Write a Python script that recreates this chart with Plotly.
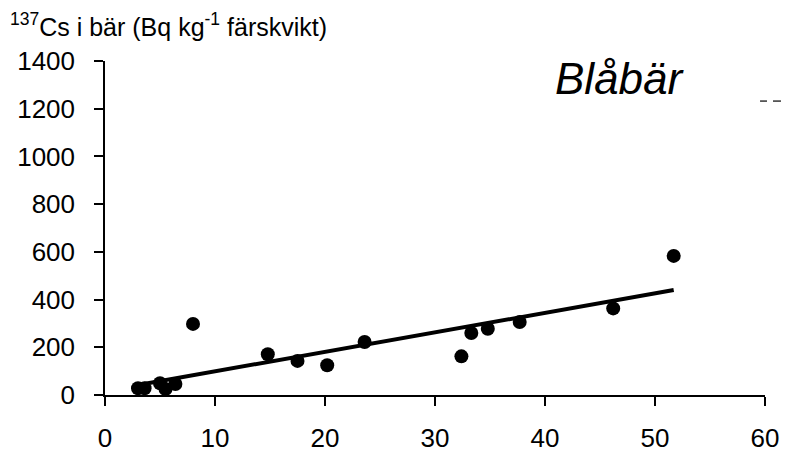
import numpy as np
import plotly.graph_objects as go

# Soil deposition vs. 137Cs activity in blueberries
deposition = [3.0, 3.6, 5.0, 5.5, 6.4, 8.0, 14.8, 17.5, 20.2, 23.6,
              32.4, 33.3, 34.8, 37.7, 46.2, 51.7]
cs_berries = [28, 28, 49, 25, 46, 298, 171, 143, 125, 222,
              162, 260, 278, 306, 363, 583]

x_ticks = [0, 10, 20, 30, 40, 50, 60]
y_ticks = [0, 200, 400, 600, 800, 1000, 1200, 1400]

# Least-squares trend line over the observed range
slope, intercept = np.polyfit(deposition, cs_berries, 1)
x_fit = np.array([min(deposition), max(deposition)])
y_fit = intercept + slope * x_fit

FONT = "Liberation Sans, Arial, sans-serif"

fig = go.Figure()
fig.add_trace(go.Scatter(
    x=x_fit, y=y_fit, mode="lines",
    line=dict(color="black", width=4),
    hoverinfo="skip", showlegend=False,
))
fig.add_trace(go.Scatter(
    x=deposition, y=cs_berries, mode="markers",
    marker=dict(color="black", size=14, line=dict(width=0)),
    cliponaxis=False, showlegend=False,
))

axis_common = dict(
    showline=True, linecolor="black", linewidth=1.5,
    ticks="outside", ticklen=9, tickwidth=1.5, tickcolor="black",
    showgrid=False, zeroline=False, automargin=False,
    tickfont=dict(family=FONT, size=26, color="black"),
)

fig.update_xaxes(range=[0, 60], tickvals=x_ticks, ticklabelstandoff=10, **axis_common)
fig.update_yaxes(range=[0, 1400], tickvals=y_ticks, ticklabelstandoff=14, **axis_common)

fig.add_annotation(
    xref="paper", yref="paper", x=-0.147, y=1.108,
    xanchor="left", yanchor="middle", showarrow=False,
    text="<sup>137</sup>Cs i bär (Bq kg<sup>-1</sup> färskvikt)",
    font=dict(family=FONT, size=25, color="black"),
)
fig.add_annotation(
    xref="paper", yref="paper", x=0.78, y=0.949,
    xanchor="center", yanchor="middle", showarrow=False,
    text="<i>Blåbär</i>",
    font=dict(family=FONT, size=44, color="black"),
)

# Two short dashes at the right edge
for x0, x1 in [(0.9925, 1.0030), (1.0121, 1.0242)]:
    fig.add_shape(type="line", xref="paper", yref="paper",
                  x0=x0, x1=x1, y0=0.880, y1=0.880,
                  line=dict(color="#333333", width=1.5))

fig.update_layout(
    width=789, height=455,
    margin=dict(l=105, r=23.5, t=61, b=60),
    paper_bgcolor="white", plot_bgcolor="white",
    font=dict(family=FONT, color="black"),
)

fig.write_html("out.html")
